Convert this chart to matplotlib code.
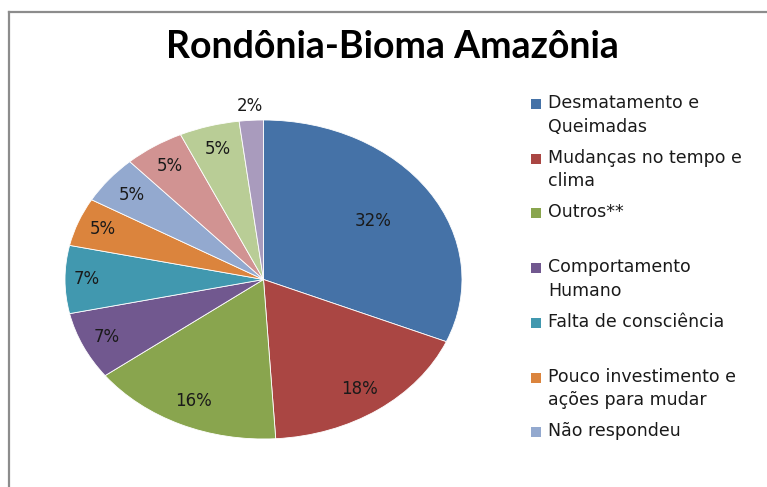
import matplotlib
matplotlib.use('Agg')
import matplotlib.pyplot as plt
from matplotlib.lines import Line2D
from matplotlib.patches import Rectangle
import numpy as np

# dados (percentagens como aparecem)
valores = [32, 18, 16, 7, 7, 5, 5, 5, 5, 2]
rotulos = ['32%', '18%', '16%', '7%', '7%', '5%', '5%', '5%', '5%', '2%']
cores = ['#4572A7', '#AA4643', '#89A54E', '#71588F', '#4198AF',
         '#DB843D', '#93A9CF', '#D19392', '#B9CD96', '#A99BBD']
legenda = ['Desmatamento e\nQueimadas', 'Mudanças no tempo e\nclima', 'Outros**',
           'Comportamento\nHumano', 'Falta de consciência',
           'Pouco investimento e\nações para mudar', 'Não respondeu']
# distancia radial de cada rotulo (posicao estilo Excel)
dist_rotulo = [0.66, 0.84, 0.84, 0.87, 0.89, 0.87, 0.85, 0.85, 0.85, 1.09]

W, H = 767, 487
fig = plt.figure(figsize=(W / 100, H / 100), dpi=100)

# moldura cinza (cortada a direita e em baixo)
fig.add_artist(Line2D([8.5 / W, 1.01], [1 - 11.5 / H, 1 - 11.5 / H],
                      transform=fig.transFigure, color='#8C8C8C', lw=1.6))
fig.add_artist(Line2D([8.5 / W, 8.5 / W], [-0.01, 1 - 11.5 / H],
                      transform=fig.transFigure, color='#8C8C8C', lw=1.6))

fig.text(392 / W, 1 - 47 / H, 'Rondônia-Bioma Amazônia', ha='center', va='center',
         fontsize=27, fontweight='bold', family='Lato')

ax = fig.add_axes([65 / W, (H - 439) / H, 397 / W, 319 / H])
wedges, _ = ax.pie(valores, colors=cores, startangle=90, counterclock=False,
                   wedgeprops=dict(edgecolor='white', linewidth=0.6))
ax.set_aspect('auto')
ax.set_xlim(-1, 1)
ax.set_ylim(-1, 1)
ax.axis('off')

for w, txt, r in zip(wedges, rotulos, dist_rotulo):
    ang = np.deg2rad((w.theta1 + w.theta2) / 2)
    ax.text(r * np.cos(ang), r * np.sin(ang), txt, ha='center', va='center',
            fontsize=12, color='#1a1a1a', clip_on=False)

# legenda manual: cada item ocupa um espaco de duas linhas
y0 = 104
passo = 54.7
for i, lab in enumerate(legenda):
    y = y0 + i * passo
    fig.add_artist(Rectangle((531 / W, 1 - (y + 5) / H), 10 / W, 10 / H,
                             transform=fig.transFigure, color=cores[i], lw=0))
    fig.text(548 / W, 1 - (y - 10) / H, lab, ha='left', va='top',
             fontsize=12.5, color='#1a1a1a', linespacing=1.4)

fig.savefig('out.png', dpi=100)
